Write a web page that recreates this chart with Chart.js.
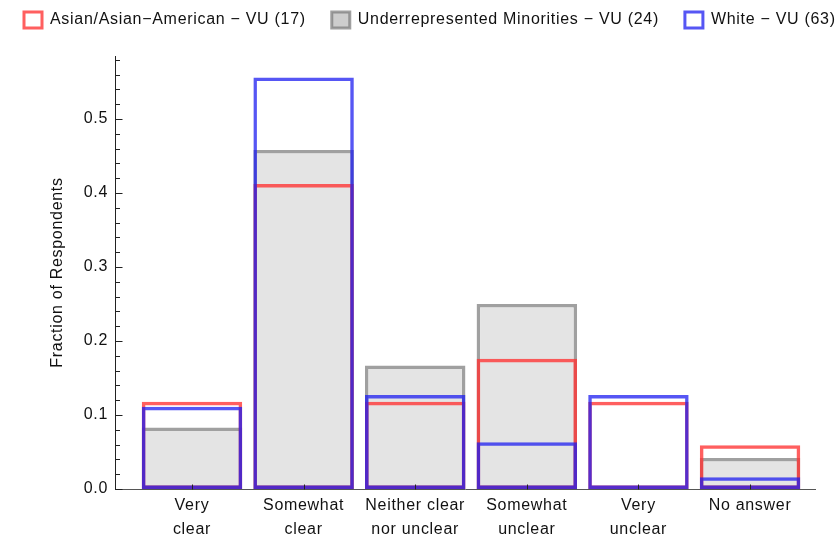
<!DOCTYPE html>
<html>
<head>
<meta charset="utf-8">
<script src="https://cdn.jsdelivr.net/npm/chart.js@4/dist/chart.umd.min.js"></script>
<style>
  html, body { margin: 0; padding: 0; background: #fff; }
  #wrap { width: 837px; height: 542px; position: relative; }
</style>
</head>
<body>
<div id="wrap"><canvas id="c" width="837" height="542"></canvas></div>
<script>
// ---- data ----
const categories = [["Very", "clear"], ["Somewhat", "clear"], ["Neither clear", "nor unclear"], ["Somewhat", "unclear"], ["Very", "unclear"], ["No answer"]];
const categoryPositions = [1, 2, 3, 4, 5, 6];
const asianValues = [0.118, 0.412, 0.118, 0.176, 0.118, 0.059];
const urmValues = [0.083, 0.458, 0.167, 0.250, 0.0, 0.042];
const whiteValues = [0.111, 0.556, 0.127, 0.063, 0.127, 0.016];
const seriesNames = ["Asian/Asian\u2212American \u2212 VU (17)", "Underrepresented Minorities \u2212 VU (24)", "White \u2212 VU (63)"];
const yTickValues = [0, 0.1, 0.2, 0.3, 0.4, 0.5];
const yMinorStep = 0.02;

const toPoints = vals => vals.map((v, i) => ({ x: categoryPositions[i], y: v }));

const LS = '0.7px';
const spacing = {
  id: 'spacing',
  beforeInit(chart) { chart.ctx.letterSpacing = LS; },
  beforeUpdate(chart) { chart.ctx.letterSpacing = LS; },
  beforeLayout(chart) { chart.ctx.letterSpacing = LS; },
  beforeDraw(chart) { chart.ctx.letterSpacing = LS; }
};

const insideTicks = {
  id: 'insideTicks',
  afterDatasetsDraw(chart) {
    const ctx = chart.ctx;
    const ys = chart.scales.y, xs = chart.scales.x;
    ctx.save();
    ctx.strokeStyle = '#222';
    ctx.lineWidth = 1;
    const x0 = Math.round(xs.left) + 0.5;
    for (let v = 0; v <= ys.max + 1e-9; v += yMinorStep) {
      const major = Math.abs(v * 10 - Math.round(v * 10)) < 1e-6;
      const py = Math.round(ys.getPixelForValue(v)) + 0.5;
      ctx.beginPath();
      ctx.moveTo(x0, py);
      ctx.lineTo(x0 + (major ? 7 : 4.5), py);
      ctx.stroke();
    }
    const yb = Math.round(ys.bottom) + 0.5;
    categoryPositions.forEach(p => {
      const px = Math.round(xs.getPixelForValue(p)) + 0.5;
      ctx.beginPath();
      ctx.moveTo(px, yb);
      ctx.lineTo(px, yb - 5);
      ctx.stroke();
    });
    ctx.restore();
  }
};

const legendHeight = {
  id: 'legendHeight',
  beforeInit(chart) {
    const lg = chart.legend;
    const origFit = lg.fit;
    lg.fit = function () {
      const mw = this.maxWidth;
      this.maxWidth = 5000;
      origFit.call(this);
      this.maxWidth = mw;
      this.width = mw;
      this.height = 56;
    };
    const origDraw = lg.draw;
    lg.draw = function () {
      const c = this.ctx;
      const r = this.right;
      this.right = 5000;
      c.save();
      c.translate(-2, -14);
      origDraw.call(this);
      c.restore();
      this.right = r;
    };
  }
};

const fontFam = '"Liberation Sans", Arial, sans-serif';
const canvas = document.getElementById('c');

new Chart(canvas, {
  type: 'bar',
  data: {
    datasets: [
      {
        label: seriesNames[0],
        data: toPoints(asianValues),
        backgroundColor: 'rgba(0,0,0,0)',
        borderColor: 'rgba(255,50,50,0.78)',
        borderWidth: 3.5,
        borderSkipped: false,
        order: 1
      },
      {
        label: seriesNames[1],
        data: toPoints(urmValues),
        backgroundColor: 'rgb(228,228,228)',
        borderColor: 'rgba(120,120,120,0.7)',
        borderWidth: 3.5,
        borderSkipped: false,
        order: 2
      },
      {
        label: seriesNames[2],
        data: toPoints(whiteValues),
        backgroundColor: 'rgba(0,0,0,0)',
        borderColor: 'rgba(30,30,240,0.75)',
        borderWidth: 3.5,
        borderSkipped: false,
        order: 0
      }
    ]
  },
  options: {
    responsive: false,
    animation: false,
    devicePixelRatio: 1,
    layout: { padding: { left: 0, right: 22, top: 0, bottom: 0 } },
    datasets: { bar: { grouped: false, barPercentage: 0.9, categoryPercentage: 1.0 } },
    plugins: {
      tooltip: { enabled: false },
      legend: {
        position: 'top',
        align: 'start',
        labels: {
          sort: (a, b) => a.datasetIndex - b.datasetIndex,
          boxWidth: 18,
          boxHeight: 16,
          padding: 26,
          color: '#111',
          font: { family: fontFam, size: 16 },
          generateLabels(chart) {
            const fills = ['#fff', 'rgb(205,205,205)', '#fff'];
            return chart.data.datasets.map((ds, i) => ({
              text: ds.label,
              fillStyle: fills[i],
              strokeStyle: ds.borderColor,
              lineWidth: 3,
              hidden: false,
              datasetIndex: i,
              fontColor: '#111'
            }));
          }
        }
      }
    },
    scales: {
      x: {
        type: 'linear',
        offset: false,
        min: 0.31,
        max: 6.582,
        afterBuildTicks(scale) { scale.ticks = categoryPositions.map(v => ({ value: v })); },
        afterFit(scale) { scale.height = 53; },
        grid: { display: false, drawTicks: false, offset: false },
        border: { display: true, color: '#555', width: 1 },
        ticks: {
          autoSkip: false,
          maxRotation: 0,
          padding: 5,
          color: '#111',
          font: { family: fontFam, size: 16, lineHeight: 1.5 },
          callback: (v) => categories[categoryPositions.indexOf(v)] || ''
        }
      },
      y: {
        type: 'linear',
        min: 0,
        max: 0.585,
        afterBuildTicks(scale) { scale.ticks = yTickValues.map(v => ({ value: v })); },
        afterFit(scale) { scale.width = 115; },
        grid: { display: false, drawTicks: false },
        border: { display: true, color: '#222', width: 1 },
        title: {
          display: true,
          text: 'Fraction of Respondents',
          color: '#111',
          font: { family: fontFam, size: 16 },
          padding: { top: 48, bottom: 0 }
        },
        ticks: {
          padding: 7,
          color: '#111',
          font: { family: fontFam, size: 16 },
          callback: (v) => v.toFixed(1)
        }
      }
    }
  },
  plugins: [spacing, insideTicks, legendHeight]
});
</script>
</body>
</html>
